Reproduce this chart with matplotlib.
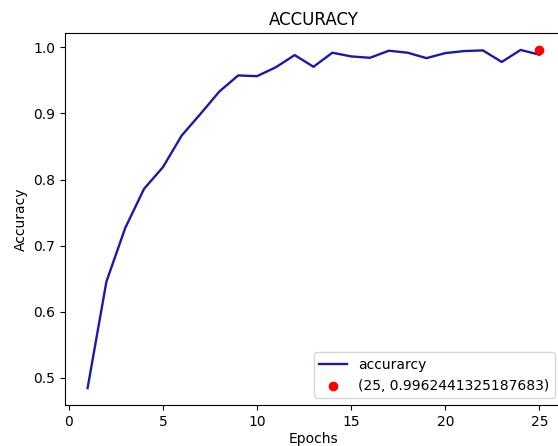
import matplotlib
matplotlib.use("Agg")
import matplotlib.pyplot as plt

epochs = list(range(1, 26))
accuracy = [0.4844, 0.6455, 0.7268, 0.786, 0.8187, 0.8667, 0.8995, 0.9333,
            0.9576, 0.9565, 0.970, 0.9884, 0.9707, 0.992, 0.9864, 0.9843,
            0.995, 0.992, 0.9838, 0.9914, 0.9945, 0.9955, 0.978, 0.9962,
            0.989]
best_epoch = 25
best_acc = 0.9962441325187683

fig = plt.figure(figsize=(5.58, 4.46), dpi=100)
ax = fig.add_axes([65 / 558, 41 / 446, 497 / 558, 372 / 446])

ax.plot(epochs, accuracy, color='#1a1aa8', linewidth=1.7, label='accurarcy')
ax.scatter([best_epoch], [best_acc], color='red', s=36, zorder=3,
           label='(%d, %s)' % (best_epoch, best_acc))

ax.set_title('ACCURACY')
ax.set_xlabel('Epochs', labelpad=2)
ax.set_ylabel('Accuracy')
ax.legend(loc='lower right')

fig.savefig('out.png', dpi=100)
